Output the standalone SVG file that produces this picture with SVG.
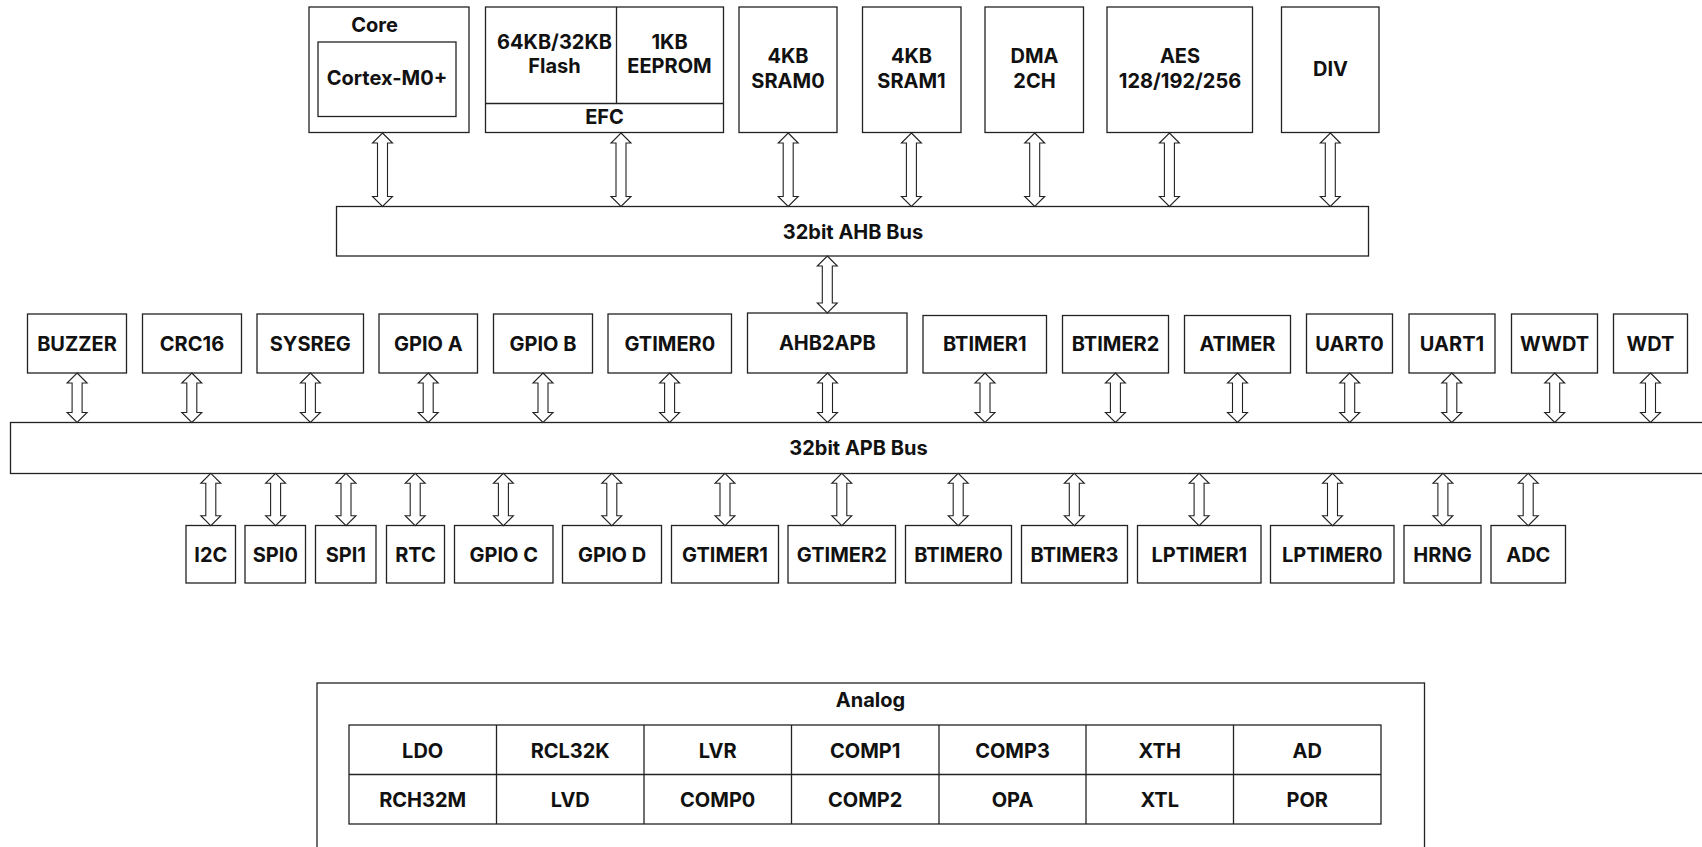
<svg xmlns="http://www.w3.org/2000/svg" xmlns:xlink="http://www.w3.org/1999/xlink" width="1702" height="847" viewBox="0 0 1702 847">
<style>
.b{fill:#fff;stroke:#222;stroke-width:1.3}
.l{fill:none;stroke:#222;stroke-width:1.3}
.t{font-family:Inter,"DejaVu Sans",sans-serif;font-weight:bold;font-size:20px;fill:#111;text-anchor:middle}
.a{fill:#fff;stroke:#222;stroke-width:1.1;stroke-linejoin:miter}
</style>
<defs>
<path id="aTop" class="a" d="M0,0 L10,10 L5,10 L5,63.5 L10,63.5 L0,73.5 L-10,63.5 L-5,63.5 L-5,10 L-10,10 Z"/>
<path id="aAhb" class="a" d="M0,0 L10,10 L5,10 L5,47 L10,47 L0,57 L-10,47 L-5,47 L-5,10 L-10,10 Z"/>
<path id="aMid" class="a" d="M0,0 L10,10 L5,10 L5,39.5 L10,39.5 L0,49.5 L-10,39.5 L-5,39.5 L-5,10 L-10,10 Z"/>
<path id="aBot" class="a" d="M0,0 L10,10 L5,10 L5,42.4 L10,42.4 L0,52.4 L-10,42.4 L-5,42.4 L-5,10 L-10,10 Z"/>
</defs>
<rect width="1702" height="847" fill="#fff"/>

<!-- Top row -->
<g id="core">
<rect class="b" x="309" y="7" width="160" height="125.5"/>
<text class="t" x="374.5" y="31.5">Core</text>
<rect class="b" x="318" y="42" width="138" height="74.5"/>
<text class="t" x="387" y="85">Cortex-M0+</text>
</g>
<g id="flash">
<rect class="b" x="485.5" y="7" width="238" height="125.5"/>
<line class="l" x1="616.5" y1="7" x2="616.5" y2="103.5"/>
<line class="l" x1="485.5" y1="103.5" x2="723.5" y2="103.5"/>
<text class="t" x="554.5" y="49">64KB/32KB</text>
<text class="t" x="554.5" y="73">Flash</text>
<text class="t" x="669.5" y="49">1KB</text>
<text class="t" x="669.5" y="73">EEPROM</text>
<text class="t" x="604.5" y="124">EFC</text>
</g>
<g id="sram0">
<rect class="b" x="739" y="7" width="98" height="125.5"/>
<text class="t" x="788" y="63">4KB</text>
<text class="t" x="788" y="88">SRAM0</text>
</g>
<g id="sram1">
<rect class="b" x="862.5" y="7" width="98.5" height="125.5"/>
<text class="t" x="911.5" y="63">4KB</text>
<text class="t" x="911.5" y="88">SRAM1</text>
</g>
<g id="dma">
<rect class="b" x="985" y="7" width="98.5" height="125.5"/>
<text class="t" x="1034.5" y="63">DMA</text>
<text class="t" x="1034.5" y="88">2CH</text>
</g>
<g id="aes">
<rect class="b" x="1107" y="7" width="145.5" height="125.5"/>
<text class="t" x="1180" y="63">AES</text>
<text class="t" x="1180" y="88">128/192/256</text>
</g>
<g id="div">
<rect class="b" x="1281.5" y="7" width="97.5" height="125.5"/>
<text class="t" x="1330.5" y="76">DIV</text>
</g>

<!-- AHB bus -->
<g id="ahb">
<rect class="b" x="336.5" y="206.5" width="1032" height="49.5"/>
<text class="t" x="853" y="238.5">32bit AHB Bus</text>
</g>

<!-- APB bus -->
<g id="apb">
<rect class="b" x="10.5" y="422.5" width="1700" height="51"/>
<text class="t" x="858.5" y="455">32bit APB Bus</text>
</g>

<!-- Middle row -->
<g id="buzzer"><rect class="b" x="27.5" y="314" width="99" height="59"/><text class="t" x="77" y="350.5">BUZZER</text></g>
<g id="crc16"><rect class="b" x="142.5" y="314" width="99" height="59"/><text class="t" x="192" y="350.5">CRC16</text></g>
<g id="sysreg"><rect class="b" x="257" y="314" width="106.5" height="59"/><text class="t" x="310.3" y="350.5">SYSREG</text></g>
<g id="gpioa"><rect class="b" x="379" y="314" width="98.5" height="59"/><text class="t" x="428.3" y="350.5">GPIO A</text></g>
<g id="gpiob"><rect class="b" x="493.5" y="314" width="99" height="59"/><text class="t" x="543" y="350.5">GPIO B</text></g>
<g id="gtimer0"><rect class="b" x="608" y="314" width="123.5" height="59"/><text class="t" x="669.8" y="350.5">GTIMER0</text></g>
<g id="ahb2apb"><rect class="b" x="747.5" y="313" width="159.5" height="60"/><text class="t" x="827.3" y="350">AHB2APB</text></g>
<g id="btimer1"><rect class="b" x="923" y="315.5" width="123.5" height="57.5"/><text class="t" x="984.8" y="351">BTIMER1</text></g>
<g id="btimer2"><rect class="b" x="1062.5" y="315.5" width="106" height="57.5"/><text class="t" x="1115.5" y="351">BTIMER2</text></g>
<g id="atimer"><rect class="b" x="1184.5" y="315.5" width="106" height="57.5"/><text class="t" x="1237.5" y="351">ATIMER</text></g>
<g id="uart0"><rect class="b" x="1306.5" y="314" width="86" height="59"/><text class="t" x="1349.5" y="350.5">UART0</text></g>
<g id="uart1"><rect class="b" x="1409" y="314" width="86" height="59"/><text class="t" x="1452" y="350.5">UART1</text></g>
<g id="wwdt"><rect class="b" x="1511.5" y="314" width="86" height="59"/><text class="t" x="1554.5" y="350.5">WWDT</text></g>
<g id="wdt"><rect class="b" x="1613.5" y="314" width="74" height="59"/><text class="t" x="1650.5" y="350.5">WDT</text></g>

<!-- Bottom row -->
<g id="i2c"><rect class="b" x="186" y="525.5" width="49.5" height="57.5"/><text class="t" x="210.8" y="561.5">I2C</text></g>
<g id="spi0"><rect class="b" x="245" y="525.5" width="60.5" height="57.5"/><text class="t" x="275.3" y="561.5">SPI0</text></g>
<g id="spi1"><rect class="b" x="315.5" y="525.5" width="60.5" height="57.5"/><text class="t" x="345.8" y="561.5">SPI1</text></g>
<g id="rtc"><rect class="b" x="386.5" y="525.5" width="58" height="57.5"/><text class="t" x="415.5" y="561.5">RTC</text></g>
<g id="gpioc"><rect class="b" x="454.5" y="525.5" width="98.5" height="57.5"/><text class="t" x="503.8" y="561.5">GPIO C</text></g>
<g id="gpiod"><rect class="b" x="562.5" y="525.5" width="99" height="57.5"/><text class="t" x="612" y="561.5">GPIO D</text></g>
<g id="gtimer1"><rect class="b" x="671.5" y="525.5" width="107" height="57.5"/><text class="t" x="725" y="561.5">GTIMER1</text></g>
<g id="gtimer2"><rect class="b" x="788" y="525.5" width="107.5" height="57.5"/><text class="t" x="841.8" y="561.5">GTIMER2</text></g>
<g id="btimer0"><rect class="b" x="905.5" y="525.5" width="106" height="57.5"/><text class="t" x="958.5" y="561.5">BTIMER0</text></g>
<g id="btimer3"><rect class="b" x="1021.5" y="525.5" width="106" height="57.5"/><text class="t" x="1074.5" y="561.5">BTIMER3</text></g>
<g id="lptimer1"><rect class="b" x="1137.5" y="525.5" width="123.5" height="57.5"/><text class="t" x="1199.3" y="561.5">LPTIMER1</text></g>
<g id="lptimer0"><rect class="b" x="1270.5" y="525.5" width="123.5" height="57.5"/><text class="t" x="1332.3" y="561.5">LPTIMER0</text></g>
<g id="hrng"><rect class="b" x="1404" y="525.5" width="77" height="57.5"/><text class="t" x="1442.5" y="561.5">HRNG</text></g>
<g id="adc"><rect class="b" x="1491" y="525.5" width="74.5" height="57.5"/><text class="t" x="1528.3" y="561.5">ADC</text></g>

<!-- Analog -->
<g id="analog">
<rect class="b" x="317" y="683" width="1107.5" height="200"/>
<text class="t" x="870.5" y="706.5">Analog</text>
<rect class="b" x="349" y="725" width="1032" height="99"/>
<line class="l" x1="349" y1="774.5" x2="1381" y2="774.5"/>
<line class="l" x1="496.5" y1="725" x2="496.5" y2="824"/>
<line class="l" x1="644" y1="725" x2="644" y2="824"/>
<line class="l" x1="791.5" y1="725" x2="791.5" y2="824"/>
<line class="l" x1="939" y1="725" x2="939" y2="824"/>
<line class="l" x1="1086" y1="725" x2="1086" y2="824"/>
<line class="l" x1="1233.5" y1="725" x2="1233.5" y2="824"/>
<text class="t" x="422.7" y="757.5">LDO</text>
<text class="t" x="570.2" y="757.5">RCL32K</text>
<text class="t" x="717.7" y="757.5">LVR</text>
<text class="t" x="865.2" y="757.5">COMP1</text>
<text class="t" x="1012.5" y="757.5">COMP3</text>
<text class="t" x="1159.7" y="757.5">XTH</text>
<text class="t" x="1307.2" y="757.5">AD</text>
<text class="t" x="422.7" y="806.5">RCH32M</text>
<text class="t" x="570.2" y="806.5">LVD</text>
<text class="t" x="717.7" y="806.5">COMP0</text>
<text class="t" x="865.2" y="806.5">COMP2</text>
<text class="t" x="1012.5" y="806.5">OPA</text>
<text class="t" x="1159.7" y="806.5">XTL</text>
<text class="t" x="1307.2" y="806.5">POR</text>
</g>

<!-- Connectors -->
<g id="connectors">
<use xlink:href="#aTop" x="382.5" y="133"/>
<use xlink:href="#aTop" x="621" y="133"/>
<use xlink:href="#aTop" x="788.2" y="133"/>
<use xlink:href="#aTop" x="911.4" y="133"/>
<use xlink:href="#aTop" x="1034.7" y="133"/>
<use xlink:href="#aTop" x="1169.4" y="133"/>
<use xlink:href="#aTop" x="1330.3" y="133"/>
<use xlink:href="#aAhb" x="827.3" y="256"/>
<use xlink:href="#aMid" x="77.1" y="373"/>
<use xlink:href="#aMid" x="191.8" y="373"/>
<use xlink:href="#aMid" x="310.4" y="373"/>
<use xlink:href="#aMid" x="428.2" y="373"/>
<use xlink:href="#aMid" x="543" y="373"/>
<use xlink:href="#aMid" x="669.6" y="373"/>
<use xlink:href="#aMid" x="827.5" y="373"/>
<use xlink:href="#aMid" x="985" y="373"/>
<use xlink:href="#aMid" x="1115.4" y="373"/>
<use xlink:href="#aMid" x="1237.5" y="373"/>
<use xlink:href="#aMid" x="1349.7" y="373"/>
<use xlink:href="#aMid" x="1451.8" y="373"/>
<use xlink:href="#aMid" x="1554.7" y="373"/>
<use xlink:href="#aMid" x="1650.5" y="373"/>
<use xlink:href="#aBot" x="210.8" y="473.3"/>
<use xlink:href="#aBot" x="275.6" y="473.3"/>
<use xlink:href="#aBot" x="346" y="473.3"/>
<use xlink:href="#aBot" x="415.2" y="473.3"/>
<use xlink:href="#aBot" x="503.4" y="473.3"/>
<use xlink:href="#aBot" x="611.8" y="473.3"/>
<use xlink:href="#aBot" x="725" y="473.3"/>
<use xlink:href="#aBot" x="841.8" y="473.3"/>
<use xlink:href="#aBot" x="958.2" y="473.3"/>
<use xlink:href="#aBot" x="1074.3" y="473.3"/>
<use xlink:href="#aBot" x="1199.1" y="473.3"/>
<use xlink:href="#aBot" x="1332.5" y="473.3"/>
<use xlink:href="#aBot" x="1442.9" y="473.3"/>
<use xlink:href="#aBot" x="1528.2" y="473.3"/>
</g>
</svg>
